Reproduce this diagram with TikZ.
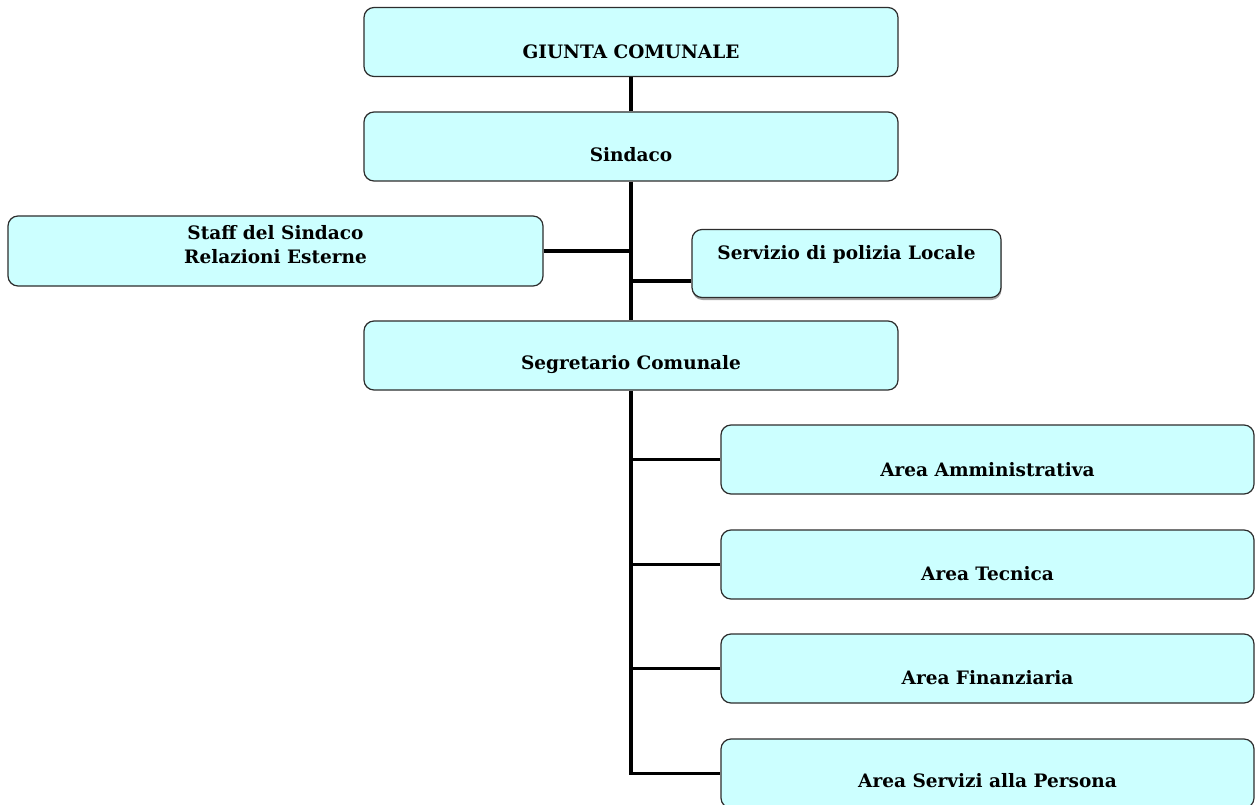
\documentclass[tikz,border=0pt]{standalone}
\usepackage{fontspec}
\usepackage{xcolor}
\setmainfont{DejaVu Serif}
\usetikzlibrary{positioning,shadows}

\definecolor{celeste}{RGB}{204,255,255}
\definecolor{bordo}{RGB}{45,45,45}

\tikzset{
  ufficio/.style={draw=bordo, line width=1.2pt, fill=celeste, rounded corners=10pt,
    minimum height=69pt, text depth=5pt, align=center,
    font=\bfseries\fontsize{18.5}{24}\selectfont},
  linea/.style={line width=3.8pt, black}
}

\begin{document}
\begin{tikzpicture}[x=1pt, y=-1pt]
  \useasboundingbox (0,0) rectangle (1256,805);

  \node[ufficio, minimum width=534pt, text height=38.4pt] (giunta)     at (631,42)      {GIUNTA COMUNALE};
  \node[ufficio, minimum width=534pt, text height=35.4pt] (sindaco)    at (631,146.5)   {Sindaco};
  \node[ufficio, minimum width=535pt, minimum height=70pt,
        text height=38pt, text depth=12.6pt]             (staff)      at (275.5,251)   {Staff del Sindaco\\Relazioni Esterne};
  \node[ufficio, minimum width=309pt, minimum height=68pt,
        text height=5pt, text depth=13.6pt,
        drop shadow={shadow xshift=0.5pt, shadow yshift=-2.5pt, fill=gray, opacity=0.7}]
                                                          (polizia)    at (846.5,263.5) {Servizio di polizia Locale};
  \node[ufficio, minimum width=534pt, text height=33.4pt] (segretario) at (631,355.5)   {Segretario Comunale};
  \node[ufficio, minimum width=533pt, text height=39.4pt] (amm)        at (987.5,459.5) {Area Amministrativa};
  \node[ufficio, minimum width=533pt, text height=37.4pt] (tec)        at (987.5,564.5) {Area Tecnica};
  \node[ufficio, minimum width=533pt, text height=37.4pt] (fin)        at (987.5,668.5) {Area Finanziaria};
  \node[ufficio, minimum width=533pt, text height=33.4pt] (serv)       at (987.5,773.5) {Area Servizi alla Persona};

  \coordinate (nodoPL) at (631,281);

  \draw[linea] (giunta) -- (sindaco);
  \draw[linea] (sindaco) -- (segretario);
  \draw[linea] (staff.east) -- (staff.east -| sindaco.south);
  \draw[linea] (nodoPL) -- (nodoPL -| polizia.west);
  \draw[linea] (segretario.south) -- (segretario.south |- serv.west) -- (serv.west);
  \foreach \a in {amm,tec,fin}
    \draw[linea] (\a.west) -- (\a.west -| segretario.south);
\end{tikzpicture}
\end{document}
